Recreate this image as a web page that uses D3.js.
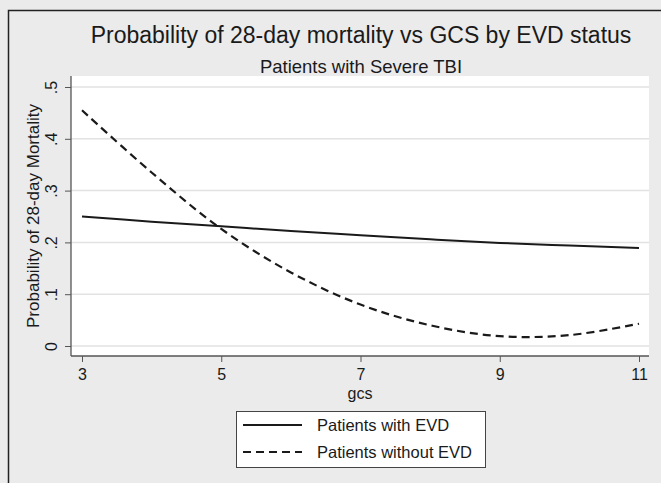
<!DOCTYPE html>
<html>
<head>
<meta charset="utf-8">
<script src="https://cdn.jsdelivr.net/npm/d3@7"></script>
<style>
  body { margin: 0; background: #ebebeb; }
  text { font-family: "Liberation Sans", Arial, sans-serif; fill: #1a1a1a; }
</style>
</head>
<body>
<div id="chart"></div>
<script>
"use strict";

// data ********************************************************************
var gcs = [3, 4, 5, 6, 7, 8, 9, 10, 11];
var withEVD = [0.250, 0.240, 0.231, 0.222, 0.214, 0.206, 0.199, 0.194, 0.189];
var withoutEVD = [0.455, 0.335, 0.226, 0.142, 0.080, 0.040, 0.019, 0.021, 0.043];
var xTicks = [3, 5, 7, 9, 11];
var yTicks = [0, 0.1, 0.2, 0.3, 0.4, 0.5];
var seriesNames = ["Patients with EVD", "Patients without EVD"];

// sizes *******************************************************************
var width = 661, height = 483;
var plot = { left: 71, right: 649, top: 76, bottom: 356 };
var font = "Liberation Sans, Arial, sans-serif";

var svg = d3.select("#chart").append("svg")
  .attr("width", width)
  .attr("height", height);

svg.append("rect")
  .attr("width", width).attr("height", height)
  .attr("fill", "#ebebeb");

// outer frame (only top + left show)
svg.append("path")
  .attr("d", "M8.5," + height + "V10.5H" + width)
  .attr("fill", "none")
  .attr("stroke", "#222")
  .attr("stroke-width", 1.5);

// scales
var x = d3.scaleLinear().domain([3, 11]).range([82, 639]);
var y = d3.scaleLinear().domain([0, 0.5]).range([346, 87]);

// plot region
svg.append("rect")
  .attr("x", plot.left).attr("y", plot.top)
  .attr("width", plot.right - plot.left)
  .attr("height", plot.bottom - plot.top)
  .attr("fill", "#fff");

// gridlines
svg.append("g").selectAll("line")
  .data(yTicks)
  .enter().append("line")
  .attr("x1", plot.left).attr("x2", plot.right)
  .attr("y1", function(d) { return y(d); })
  .attr("y2", function(d) { return y(d); })
  .attr("stroke", "#e2e2e2")
  .attr("stroke-width", 1.5);

// y axis
var yAxis = svg.append("g")
  .attr("transform", "translate(" + plot.left + ",0)")
  .call(d3.axisLeft(y).tickValues(yTicks).tickSize(6)
    .tickFormat(function(d) { return d === 0 ? "0" : d3.format(".1f")(d).replace(/^0/, ""); }));
yAxis.select(".domain").attr("d", "M0," + plot.top + "V" + plot.bottom).attr("stroke", "#555").attr("stroke-width", 1.3);
yAxis.selectAll(".tick line").attr("stroke", "#555");
yAxis.selectAll(".tick text")
  .attr("x", null).attr("dy", null)
  .attr("text-anchor", "middle")
  .attr("transform", "translate(-14,0) rotate(-90)")
  .style("font-size", "16px")
  .style("font-family", font)
  .style("fill", "#1a1a1a");

// x axis
var xAxis = svg.append("g")
  .attr("transform", "translate(0," + plot.bottom + ")")
  .call(d3.axisBottom(x).tickValues(xTicks).tickSize(6));
xAxis.select(".domain").attr("d", "M" + plot.left + ",0H" + plot.right).attr("stroke", "#555").attr("stroke-width", 1.3);
xAxis.selectAll(".tick line").attr("stroke", "#555");
xAxis.selectAll(".tick text")
  .attr("y", 24).attr("dy", null)
  .style("font-size", "16px")
  .style("font-family", font)
  .style("fill", "#1a1a1a");

// axis titles
svg.append("text")
  .attr("x", 360).attr("y", 399)
  .attr("text-anchor", "middle")
  .style("font-size", "16px")
  .text("gcs");

svg.append("text")
  .attr("transform", "translate(39," + ((plot.top + plot.bottom) / 2) + ") rotate(-90)")
  .attr("text-anchor", "middle")
  .style("font-size", "17px")
  .text("Probability of 28-day Mortality");

// titles
svg.append("text")
  .attr("x", 361).attr("y", 43)
  .attr("text-anchor", "middle")
  .style("font-size", "23px")
  .text("Probability of 28-day mortality vs GCS by EVD status");

svg.append("text")
  .attr("x", 361).attr("y", 73)
  .attr("text-anchor", "middle")
  .style("font-size", "18.5px")
  .text("Patients with Severe TBI");

// lines
var line = d3.line()
  .x(function(d) { return x(d[0]); })
  .y(function(d) { return y(d[1]); })
  .curve(d3.curveCatmullRom);

svg.append("path")
  .datum(d3.zip(gcs, withEVD))
  .attr("d", line)
  .attr("fill", "none")
  .attr("stroke", "#1a1a1a")
  .attr("stroke-width", 2);

svg.append("path")
  .datum(d3.zip(gcs, withoutEVD))
  .attr("d", line)
  .attr("fill", "none")
  .attr("stroke", "#1a1a1a")
  .attr("stroke-width", 2.2)
  .attr("stroke-dasharray", "8,5");

// legend
var legend = svg.append("g").attr("transform", "translate(236,411)");
legend.append("rect")
  .attr("x", 0.5).attr("y", 0.5)
  .attr("width", 249).attr("height", 56)
  .attr("fill", "#fff")
  .attr("stroke", "#444");

var item = legend.selectAll(".item")
  .data(seriesNames)
  .enter().append("g")
  .attr("class", "item")
  .attr("transform", function(d, i) { return "translate(0," + (14 + i * 27) + ")"; });

item.append("line")
  .attr("x1", 7).attr("x2", 66)
  .attr("stroke", "#1a1a1a")
  .attr("stroke-width", 2)
  .attr("stroke-dasharray", function(d, i) { return i === 1 ? "8,5" : null; });

item.append("text")
  .attr("x", 81).attr("dy", "0.36em")
  .style("font-size", "16.5px")
  .text(function(d) { return d; });
</script>
</body>
</html>
